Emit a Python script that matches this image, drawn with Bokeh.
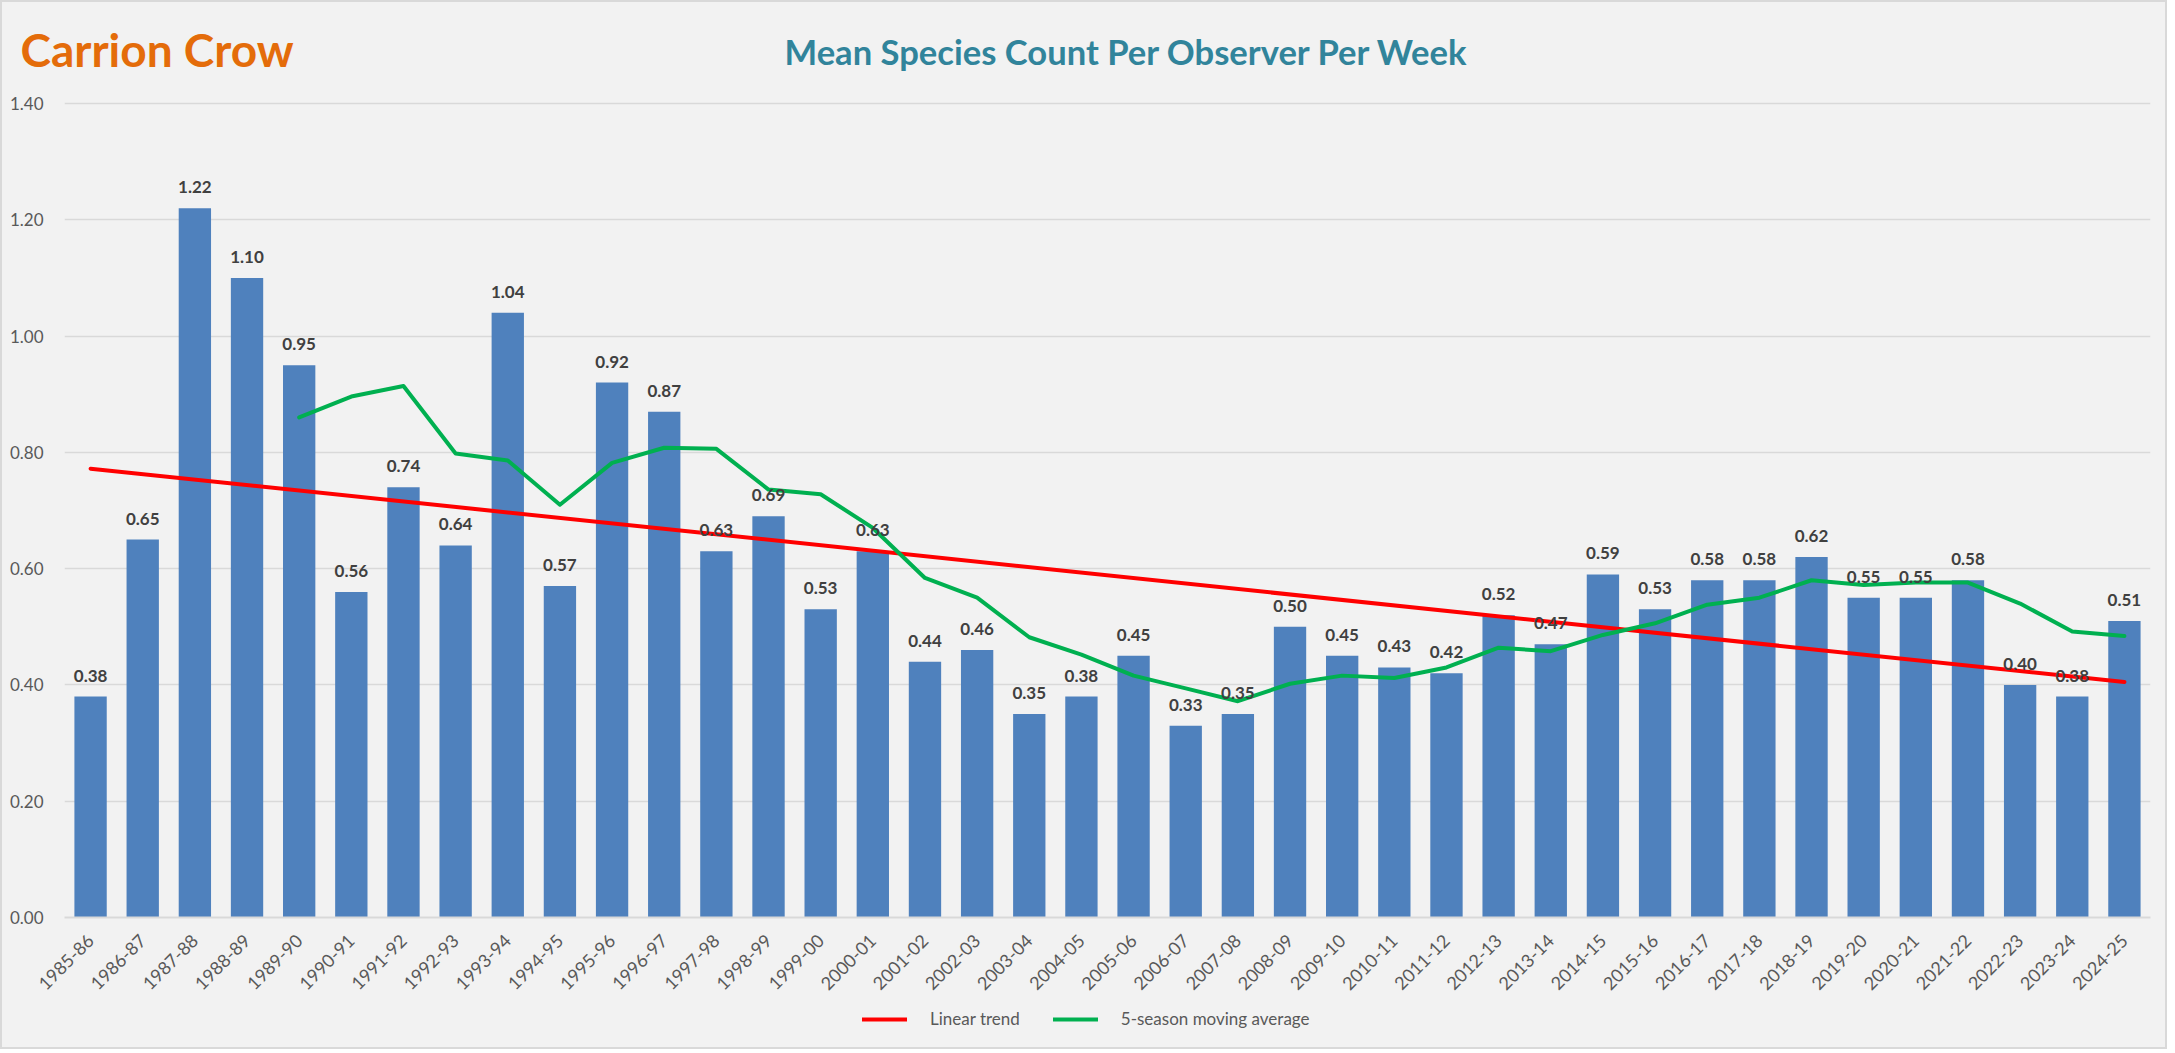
import math
from bokeh.plotting import figure
from bokeh.layouts import column
from bokeh.models import (ColumnDataSource, Range1d, FixedTicker, Legend, LegendItem, Title)
from bokeh.core.properties import value
from bokeh.embed import file_html
from bokeh.resources import INLINE

seasons = ["1985-86", "1986-87", "1987-88", "1988-89", "1989-90", "1990-91", "1991-92",
           "1992-93", "1993-94", "1994-95", "1995-96", "1996-97", "1997-98", "1998-99",
           "1999-00", "2000-01", "2001-02", "2002-03", "2003-04", "2004-05", "2005-06",
           "2006-07", "2007-08", "2008-09", "2009-10", "2010-11", "2011-12", "2012-13",
           "2013-14", "2014-15", "2015-16", "2016-17", "2017-18", "2018-19", "2019-20",
           "2020-21", "2021-22", "2022-23", "2023-24", "2024-25"]

mean_count = [0.38, 0.65, 1.22, 1.10, 0.95, 0.56, 0.74, 0.64, 1.04, 0.57,
              0.92, 0.87, 0.63, 0.69, 0.53, 0.63, 0.44, 0.46, 0.35, 0.38,
              0.45, 0.33, 0.35, 0.50, 0.45, 0.43, 0.42, 0.52, 0.47, 0.59,
              0.53, 0.58, 0.58, 0.62, 0.55, 0.55, 0.58, 0.40, 0.38, 0.51]

# 5-season moving average (starts at 1989-90)
moving_avg = [0.860, 0.896, 0.914, 0.798, 0.786, 0.710, 0.782, 0.808, 0.806,
              0.736, 0.728, 0.670, 0.584, 0.550, 0.482, 0.452, 0.416, 0.394,
              0.372, 0.402, 0.416, 0.412, 0.430, 0.464, 0.458, 0.486, 0.506,
              0.538, 0.550, 0.580, 0.572, 0.576, 0.576, 0.540, 0.492, 0.484]

# linear trend end points (first and last season)
trend_values = [0.772, 0.405]

y_ticks = [0.0, 0.2, 0.4, 0.6, 0.8, 1.0, 1.2, 1.4]

title_text = "Carrion Crow"
subtitle_text = "Mean Species Count Per Observer Per Week"
legend_labels = ["Linear trend", "5-season moving average"]

FONT = "Lato"
BG = "#F2F2F2"
LEFT, RIGHT = 62, 15
FRAME_W = 2086
W = LEFT + FRAME_W + RIGHT
TOP = 49            # frame top (title row centre), canvas px
GRID_TOP = 101      # canvas row of the 1.40 gridline
ZERO = 915          # canvas row of the 0.00 axis
BOTTOM = 75
FRAME_H = ZERO - TOP
Y_END = 1.4 * FRAME_H / (ZERO - GRID_TOP)
LEG_H = 49

xs = list(range(len(seasons)))
src = ColumnDataSource(dict(x=xs, v=mean_count, lab=["%.2f" % v for v in mean_count]))
ma_x = xs[len(seasons) - len(moving_avg):]
trend_x = [xs[0], xs[-1]]

p = figure(frame_width=FRAME_W, frame_height=FRAME_H,
           x_range=Range1d(-0.5, len(seasons) - 0.5), y_range=Range1d(0, Y_END),
           output_backend="svg", toolbar_location=None,
           min_border_left=LEFT, min_border_right=RIGHT, min_border_top=TOP,
           min_border_bottom=BOTTOM)

p.background_fill_color = BG
p.border_fill_color = BG
p.outline_line_color = None

# titles (both on one row, centred near the frame's top edge)
p.title = Title(text=title_text, align="left", offset=-44, vertical_align="middle",
                standoff=-55, text_font=FONT, text_font_style="bold",
                text_font_size="46px", text_color="#E46C0A")
p.add_layout(Title(text=subtitle_text, align="left", offset=720,
                   vertical_align="middle", standoff=-42, text_font=FONT,
                   text_font_style="bold", text_font_size="34.6px", text_color="#31849B"),
             "above")

p.vbar(x="x", top="v", width=0.62, source=src, fill_color="#4F81BD", line_color=None)

p.line(trend_x, trend_values, line_color="#FF0000", line_width=4, line_cap="round")
p.line(ma_x, moving_avg, line_color="#00B050", line_width=4, line_cap="round",
       line_join="round")

p.text(x="x", y="v", text="lab", source=src, text_align="center", text_baseline="bottom",
       y_offset=-15, text_font=value(FONT), text_font_style="bold", text_font_size="17px",
       text_color="#404040")

p.xaxis.ticker = FixedTicker(ticks=xs)
p.xaxis.major_label_overrides = {i: s for i, s in enumerate(seasons)}
p.xaxis.major_label_orientation = math.pi / 4
p.xaxis.major_label_text_font = FONT
p.xaxis.major_label_text_font_size = "18px"
p.xaxis.major_label_text_color = "#595959"
p.xaxis.axis_line_color = "#D9D9D9"
p.xaxis.axis_line_width = 2
p.xaxis.major_tick_line_color = None
p.xaxis.minor_tick_line_color = None
p.xaxis.major_label_standoff = 14

p.yaxis.ticker = FixedTicker(ticks=y_ticks)
p.yaxis.major_label_overrides = {tk: "%.2f" % tk for tk in y_ticks}
p.yaxis.major_label_text_font = FONT
p.yaxis.major_label_text_font_size = "17px"
p.yaxis.major_label_text_color = "#595959"
p.yaxis.axis_line_color = None
p.yaxis.major_tick_line_color = None
p.yaxis.minor_tick_line_color = None
p.yaxis.major_label_standoff = 15

p.xgrid.grid_line_color = None
p.ygrid.grid_line_color = "#D9D9D9"
p.ygrid.grid_line_width = 1.5

# ---- legend strip ----
leg = figure(width=W, height=LEG_H, x_range=Range1d(0, 1), y_range=Range1d(0, 1),
             output_backend="svg", toolbar_location=None, min_border=0,
             min_border_left=LEFT, min_border_right=RIGHT,
             x_axis_location=None, y_axis_location=None)
leg.grid.visible = False
leg.outline_line_color = None
leg.background_fill_color = BG
leg.border_fill_color = BG
# legend-only renderers: a single point placed outside the visible range
lr_trend = leg.line(x=[0.5], y=[-5], line_color="#FF0000", line_width=4, line_cap="round")
lr_ma = leg.line(x=[0.5], y=[-5], line_color="#00B050", line_width=4, line_cap="round")
legend = Legend(items=[LegendItem(label=legend_labels[0], renderers=[lr_trend]),
                       LegendItem(label=legend_labels[1], renderers=[lr_ma])],
                orientation="horizontal", location=(798, 18),
                label_text_font=FONT, label_text_font_size="17px", label_text_color="#595959",
                glyph_width=45, glyph_height=20, label_standoff=23, spacing=33,
                background_fill_alpha=0, border_line_color=None, margin=0, padding=0)
leg.add_layout(legend)

layout = column(p, leg, spacing=0,
                styles={"background-color": BG, "border": "2px solid #D9D9D9"})
open("out.html", "w").write(file_html(layout, INLINE))
